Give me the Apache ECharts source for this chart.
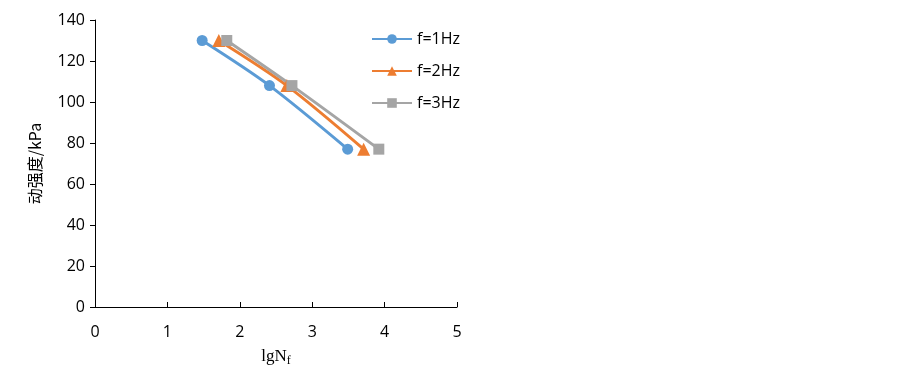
<!DOCTYPE html>
<html>
<head>
<meta charset="utf-8">
<script src="https://cdn.jsdelivr.net/npm/echarts@6/dist/echarts.min.js"></script>
<style>
html, body { margin: 0; padding: 0; background: #fff; }
#container { width: 903px; height: 369px; }
</style>
</head>
<body>
<div id="container"></div>
<script>
// values
var seriesNames = ['f=1Hz', 'f=2Hz', 'f=3Hz'];
var lgN1 = [1.48, 2.41, 3.49];
var lgN2 = [1.71, 2.65, 3.71];
var lgN3 = [1.82, 2.72, 3.92];
var strength = [130, 108, 77];
var colors = ['#5B9BD5', '#ED7D31', '#A5A5A5'];
var symbols = ['circle', 'triangle', 'rect'];

function pairs(xs, ys) {
	var arr = [];
	for (var i = 0; i < xs.length; ++i) arr.push([xs[i], ys[i]]);
	return arr;
}
var xsList = [lgN1, lgN2, lgN3];

var myChart = echarts.init(document.getElementById('container'));
var option = {
	animation: false,
	textStyle: { fontFamily: 'Open Sans' },
	grid: { left: 95, top: 20, right: 446, bottom: 62, outerBoundsMode: 'none', containLabel: false },
	legend: {
		orient: 'vertical',
		left: 366,
		top: 24,
		itemWidth: 40,
		itemHeight: 12,
		itemGap: 12,
		textStyle: { fontSize: 16, color: '#000', fontFamily: 'Open Sans', lineHeight: 20 },
		data: seriesNames
	},
	xAxis: {
		type: 'value',
		min: 0, max: 5, interval: 1,
		axisLine: { lineStyle: { color: '#000', width: 1 } },
		axisTick: { inside: true, length: 5, lineStyle: { color: '#000' } },
		axisLabel: { fontSize: 16, color: '#000', margin: 17 },
		splitLine: { show: false },
		name: 'lgN{sub|f}',
		nameLocation: 'middle',
		nameGap: 40,
		nameTextStyle: {
			fontFamily: 'Liberation Serif', fontSize: 17, color: '#000',
			rich: { sub: { fontFamily: 'Liberation Serif', fontSize: 12, color: '#000', verticalAlign: 'bottom', padding: [8, 0, 0, 0] } }
		}
	},
	yAxis: {
		type: 'value',
		min: 0, max: 140, interval: 20,
		axisLine: { show: true, lineStyle: { color: '#000', width: 1 } },
		axisTick: { show: true, length: 5, lineStyle: { color: '#000' } },
		axisLabel: { fontSize: 16, color: '#000', margin: 10 },
		splitLine: { show: false },
		name: '动强度/kPa',
		nameLocation: 'middle',
		nameRotate: 90,
		nameGap: 52,
		nameTextStyle: { fontFamily: 'Noto Sans CJK SC', fontSize: 16, color: '#000' }
	},
	series: seriesNames.map(function(name, i) {
		return {
			name: name,
			type: 'line',
			smooth: 0.3,
			symbol: symbols[i],
			symbolSize: i === 1 ? 13 : 11,
			color: colors[i],
			lineStyle: { width: 3, color: colors[i] },
			itemStyle: { color: colors[i] },
			data: pairs(xsList[i], strength)
		};
	})
};
myChart.setOption(option);
</script>
</body>
</html>
